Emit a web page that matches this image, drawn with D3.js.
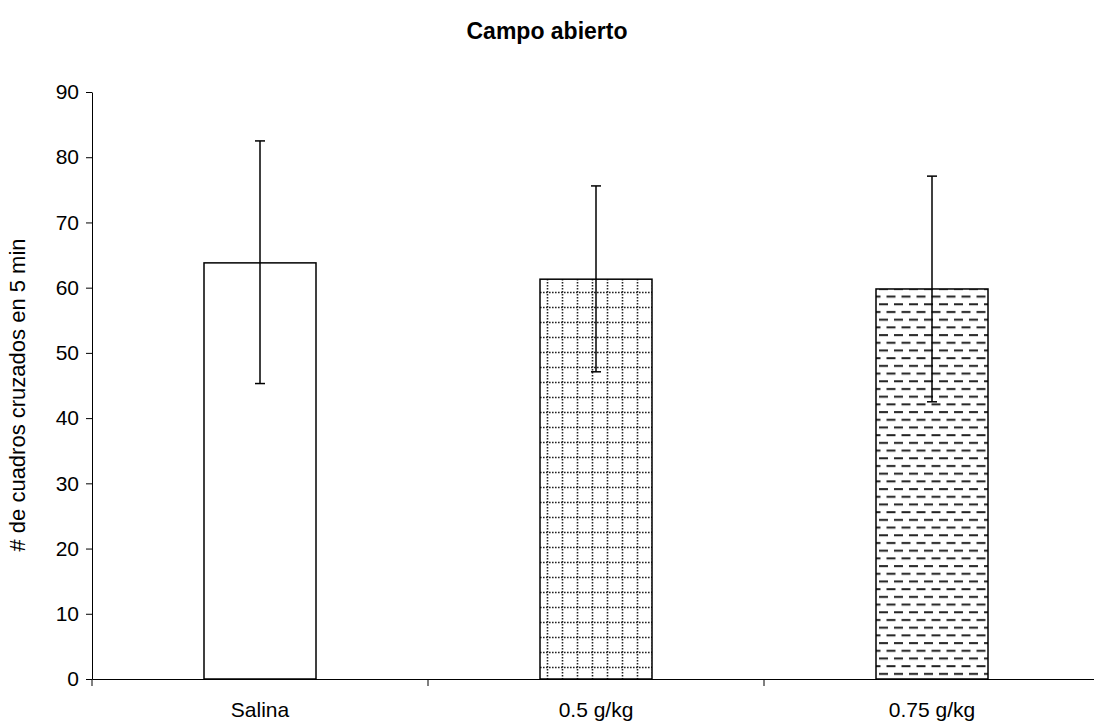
<!DOCTYPE html>
<html><head><meta charset="utf-8">
<script src="https://cdn.jsdelivr.net/npm/d3@7"></script>
<style>body{margin:0;background:#fff}svg{display:block}text{font-family:"Liberation Sans",Arial,sans-serif}</style>
</head><body>
<svg id="c" width="1094" height="726"></svg>
<script>
const categories = ["Salina", "0.5 g/kg", "0.75 g/kg"];
const means = [63.8, 61.3, 59.8];
const errUp = [82.5, 75.6, 77.1];
const errLow = [45.3, 47.1, 42.5];
const yTicks = [0,10,20,30,40,50,60,70,80,90];
const patterns = ["none", "grid", "dash"];

const svg = d3.select("#c");
const m = {l:92, r:1100, t:92, b:679};
const x = d3.scaleBand().domain(categories).range([m.l, m.r]).paddingInner(0).paddingOuter(0);
const y = d3.scaleLinear().domain([0,90]).range([m.b, m.t]);

const defs = svg.append("defs");
const pg = defs.append("pattern").attr("id","grid").attr("patternUnits","userSpaceOnUse")
  .attr("width",15).attr("height",15).attr("x",0).attr("y",0);
pg.append("rect").attr("width",15).attr("height",15).attr("fill","#fff");
pg.append("line").attr("x1",0).attr("x2",15).attr("y1",7.5).attr("y2",7.5)
  .attr("stroke","#222").attr("stroke-width",1.6).attr("stroke-dasharray","1.6,1.4");
pg.append("line").attr("x1",7.5).attr("x2",7.5).attr("y1",0).attr("y2",15)
  .attr("stroke","#222").attr("stroke-width",1.6).attr("stroke-dasharray","1.6,1.4");
const pd = defs.append("pattern").attr("id","dash").attr("patternUnits","userSpaceOnUse")
  .attr("width",15).attr("height",15.4).attr("x",0).attr("y",0);
pd.append("rect").attr("width",15).attr("height",15.4).attr("fill","#fff");
pd.append("rect").attr("x",1.5).attr("y",3).attr("width",9).attr("height",2).attr("fill","#222");
pd.append("rect").attr("x",9).attr("y",10.7).attr("width",9).attr("height",2).attr("fill","#222");
pd.append("rect").attr("x",-6).attr("y",10.7).attr("width",9).attr("height",2).attr("fill","#222");

svg.append("text").attr("x",547).attr("y",39).attr("text-anchor","middle")
  .attr("font-size",23).attr("font-weight","bold").text("Campo abierto");

svg.append("text").attr("transform",`translate(25,395) rotate(-90)`)
  .attr("text-anchor","middle").attr("font-size",22).text("# de cuadros cruzados en 5 min");

const bw = x.bandwidth()/3;
categories.forEach((c,i)=>{
  const cx = x(c) + x.bandwidth()/2;
  svg.append("rect").attr("x",cx-bw/2).attr("y",y(means[i]))
    .attr("width",bw).attr("height",y(0)-y(means[i]))
    .attr("fill", patterns[i]==="none" ? "#fff" : `url(#${patterns[i]})`)
    .attr("stroke","#000").attr("stroke-width",1.5);
});
categories.forEach((c,i)=>{
  const cx = x(c) + x.bandwidth()/2;
  const g = svg.append("g").attr("stroke","#000").attr("stroke-width",1.5);
  g.append("line").attr("x1",cx).attr("x2",cx).attr("y1",y(errUp[i])).attr("y2",y(errLow[i]));
  g.append("line").attr("x1",cx-5).attr("x2",cx+5).attr("y1",y(errUp[i])).attr("y2",y(errUp[i]));
  g.append("line").attr("x1",cx-5).attr("x2",cx+5).attr("y1",y(errLow[i])).attr("y2",y(errLow[i]));
});

const ya = svg.append("g").attr("transform",`translate(${m.l},0)`)
  .call(d3.axisLeft(y).tickValues(yTicks).tickSize(6).tickPadding(7).tickSizeOuter(0));
ya.attr("font-size",null);
ya.selectAll("text").attr("font-size",21).attr("fill","#000").style("font-family","'Liberation Sans',Arial,sans-serif");
ya.selectAll("line,path").attr("stroke","#000");

const xa = svg.append("g").attr("transform",`translate(0,${m.b})`)
  .call(d3.axisBottom(x).tickSize(0).tickPadding(23).tickSizeOuter(0));
xa.attr("font-size",null);
xa.select("path").attr("stroke","#000").attr("stroke-width",1.2);
xa.selectAll("text").attr("font-size",21).attr("fill","#000").style("font-family","'Liberation Sans',Arial,sans-serif");
const bounds = categories.map(c=>x(c)).concat([m.r]);
svg.append("g").selectAll("line").data(bounds).join("line")
  .attr("x1",d=>d).attr("x2",d=>d).attr("y1",m.b).attr("y2",m.b+7).attr("stroke","#000");
</script>
</body></html>
